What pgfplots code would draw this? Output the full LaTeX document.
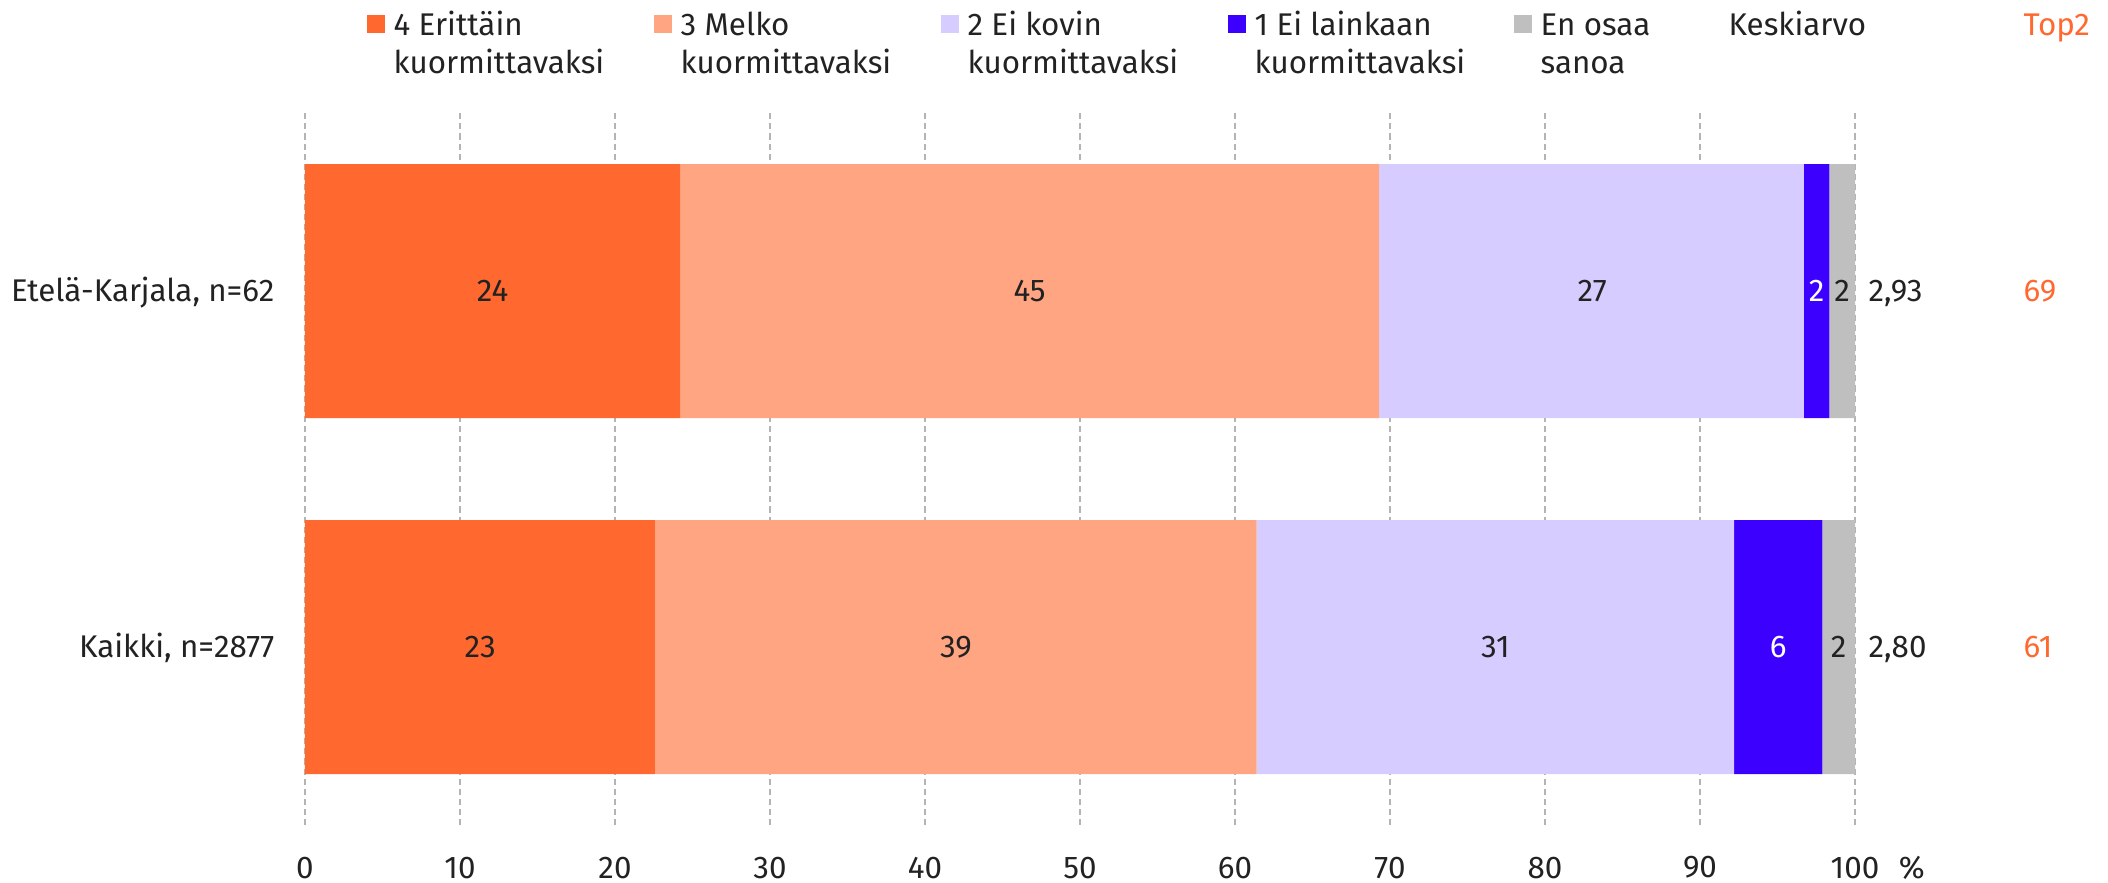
\documentclass[border=0pt]{standalone}
\usepackage{fontspec}
\setmainfont{Fira Sans}
\usepackage{pgfplots}
\pgfplotsset{compat=1.18}
\definecolor{c4}{HTML}{FF6930}
\definecolor{c3}{HTML}{FFA582}
\definecolor{c2}{HTML}{D7CCFF}
\definecolor{c1}{HTML}{3C00FF}
\definecolor{ceos}{HTML}{BFBFBF}
\definecolor{txt}{HTML}{222222}
\definecolor{gridc}{HTML}{B4B4B4}
\newcommand{\fs}{\fontsize{9.8pt}{12.2pt}\selectfont}
\pgfplotsset{
  base/.style={
    at={(0,0)}, anchor=south west,
    x=4.84375pt, y=111.25pt,
    xmin=0, xmax=100, ymin=-0.5, ymax=1.5,
    clip=false,
  },
  lbl/.style={draw=none, mark=none, nodes near coords, point meta=explicit symbolic,
    every node near coord/.append style={anchor=base, yshift=-3.4pt, font=\fs, inner sep=0pt}},
}
\begin{document}
\begin{tikzpicture}[font=\fs, text=txt]
\begin{scope}[x=0.3125pt, y=-0.3125pt, shift={(-95.3125pt,257.8125pt)}]
\useasboundingbox (0,0) rectangle (2108,882);
% legend
\fill[c4] (367,15) rectangle (385,33);
\node[anchor=base west, inner sep=0pt] at (393,35) {4 Erittäin};
\node[anchor=base west, inner sep=0pt] at (393,73) {kuormittavaksi};
\fill[c3] (654,15) rectangle (672,33);
\node[anchor=base west, inner sep=0pt] at (680,35) {3 Melko};
\node[anchor=base west, inner sep=0pt] at (680,73) {kuormittavaksi};
\fill[c2] (941,15) rectangle (959,33);
\node[anchor=base west, inner sep=0pt] at (967,35) {2 Ei kovin};
\node[anchor=base west, inner sep=0pt] at (967,73) {kuormittavaksi};
\fill[c1] (1228,15) rectangle (1246,33);
\node[anchor=base west, inner sep=0pt] at (1254,35) {1 Ei lainkaan};
\node[anchor=base west, inner sep=0pt] at (1254,73) {kuormittavaksi};
\fill[ceos] (1514,15) rectangle (1532,33);
\node[anchor=base west, inner sep=0pt] at (1540,35) {En osaa};
\node[anchor=base west, inner sep=0pt] at (1540,73) {sanoa};
\node[anchor=base west, inner sep=0pt] at (1728,35) {Keskiarvo};
\node[anchor=base west, inner sep=0pt, text=c4] at (2023,35) {Top2};
\end{scope}

\begin{axis}[base,
  xbar stacked, bar width=0.7135,
  axis line style={draw=none},
  tick style={draw=none},
  xtick={0,10,...,100},
  ytick={0,1},
  yticklabels={{Kaikki, n=2877},{Etelä-Karjala, n=62}},
  /pgf/number format/assume math mode=true,
  xticklabel style={font=\fs, text=txt, anchor=center, inner sep=0pt, yshift=-13.3pt},
  yticklabel style={font=\fs, text=txt, anchor=base east, inner sep=0pt, xshift=-9.4pt, yshift=-3.4pt},
  xmajorgrids,
  grid style={gridc, line width=0.55pt, dash pattern=on 1.9pt off 1.25pt},
]
\addplot[fill=c4, draw=none] coordinates {(22.6,0) (24.2,1)};
\addplot[fill=c3, draw=none] coordinates {(38.8,0) (45.1,1)};
\addplot[fill=c2, draw=none] coordinates {(30.8,0) (27.4,1)};
\addplot[fill=c1, draw=none] coordinates {(5.7,0) (1.65,1)};
\addplot[fill=ceos, draw=none] coordinates {(2.1,0) (1.65,1)};
\end{axis}

\begin{axis}[base, hide axis]
\addplot[lbl] coordinates {(11.3,0) [23] (42.0,0) [39] (76.8,0) [31] (98.95,0) [2]
  (12.1,1) [24] (46.75,1) [45] (83.05,1) [27] (99.175,1) [2]};
\addplot[lbl, every node near coord/.append style={text=white}] coordinates {(95.05,0) [6] (97.525,1) [2]};
\addplot[lbl, every node near coord/.append style={anchor=base west}] coordinates {(100.84,0) [{2,80}] (100.84,1) [{2,93}]};
\addplot[lbl, every node near coord/.append style={anchor=base west, text=c4}] coordinates {(110.84,0) [61] (110.84,1) [69]};
\node[anchor=center, inner sep=0pt, font=\fs] at (axis cs:103.66,-0.5) [yshift=-13.3pt] {\%};
\end{axis}
\end{tikzpicture}
\end{document}
